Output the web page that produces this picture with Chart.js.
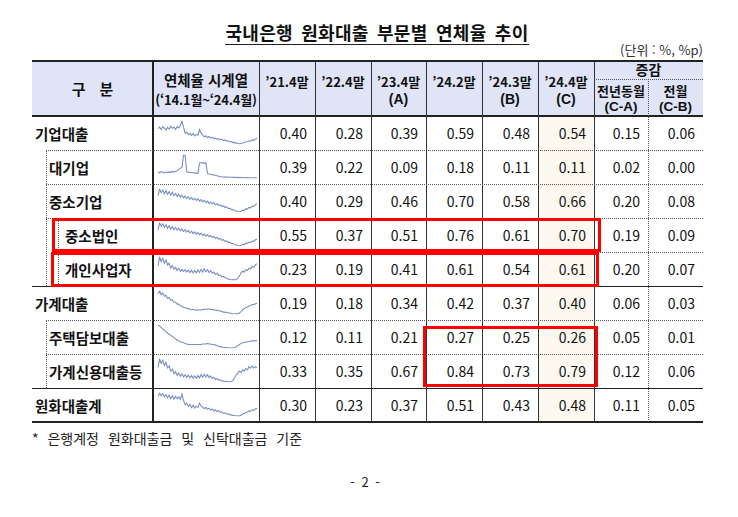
<!DOCTYPE html>
<html lang="ko">
<head>
<meta charset="utf-8">
<script src="https://cdn.jsdelivr.net/npm/chart.js@4.4.1/dist/chart.umd.min.js"></script>
<style>
  html, body { margin: 0; padding: 0; background: #fff; }
  body { font-family: 'Noto Sans CJK KR', 'Noto Sans', sans-serif; color: #111; }
  #page { position: relative; width: 738px; height: 517px; overflow: hidden; background: #fff; }
  .box { position: absolute; box-sizing: border-box; }
  .cell { position: absolute; box-sizing: border-box; display: flex; align-items: center; white-space: nowrap; }
  .hd { font-weight: 700; font-size: 13px; justify-content: center; }
  .lat { font-family: 'Liberation Sans', 'Noto Sans', sans-serif; }
  .num { font-size: 14px; justify-content: flex-end; padding-right: 8px; }
  .lab { font-size: 14.5px; font-weight: 700; }
</style>
</head>
<body>
<div id="page"></div>
<script>
// 표 데이터
const rowNames = ['기업대출', '대기업', '중소기업', '중소법인', '개인사업자', '가계대출', '주택담보대출', '가계신용대출등', '원화대출계'];
const colHeads = [['’21.4말'], ['’22.4말'], ['’23.4말', '(A)'], ['’24.2말'], ['’24.3말', '(B)'], ['’24.4말', '(C)']];
const diffHeads = [['전년동월', '(C-A)'], ['전월', '(C-B)']];

const r21_4 = [0.40, 0.39, 0.40, 0.55, 0.23, 0.19, 0.12, 0.33, 0.30];
const r22_4 = [0.28, 0.22, 0.29, 0.37, 0.19, 0.18, 0.11, 0.35, 0.23];
const r23_4 = [0.39, 0.09, 0.46, 0.51, 0.41, 0.34, 0.21, 0.67, 0.37];
const r24_2 = [0.59, 0.18, 0.70, 0.76, 0.61, 0.42, 0.27, 0.84, 0.51];
const r24_3 = [0.48, 0.11, 0.58, 0.61, 0.54, 0.37, 0.25, 0.73, 0.43];
const r24_4 = [0.54, 0.11, 0.66, 0.70, 0.61, 0.40, 0.26, 0.79, 0.48];
const diffYoY = [0.15, 0.02, 0.20, 0.19, 0.20, 0.06, 0.05, 0.12, 0.11];
const diffMoM = [0.06, 0.00, 0.08, 0.09, 0.07, 0.03, 0.01, 0.06, 0.05];

// 시계열 ('14.1월~'24.4월, 격월 근사)
const months = ['14.1','14.3','14.5','14.7','14.9','14.11','15.1','15.3','15.5','15.7','15.9','15.11',
  '16.1','16.3','16.5','16.7','16.9','16.11','17.1','17.3','17.5','17.7','17.9','17.11',
  '18.1','18.3','18.5','18.7','18.9','18.11','19.1','19.3','19.5','19.7','19.9','19.11',
  '20.1','20.3','20.5','20.7','20.9','20.11','21.1','21.3','21.5','21.7','21.9','21.11',
  '22.1','22.3','22.5','22.7','22.9','22.11','23.1','23.3','23.5','23.7','23.9','23.11',
  '24.1','24.3','24.4'];

const trendCorp = [1.02,1.10,0.98,1.12,1.05,0.96,1.08,1.00,1.14,1.04,1.10,0.98,1.12,1.06,1.18,
  1.40,1.10,0.80,0.84,0.72,0.80,0.68,0.78,0.66,0.74,0.70,0.98,0.80,
  0.70,0.62,0.66,0.58,0.63,0.55,0.60,0.52,0.56,0.49,0.53,0.46,0.50,0.43,0.46,0.40,0.42,0.36,0.38,0.33,0.34,0.30,0.29,0.26,
  0.28,0.31,0.33,0.36,0.38,0.42,0.40,0.46,0.44,0.50,0.54];
const trendLarge = [0.62,0.58,0.66,0.60,0.55,0.62,0.58,0.64,0.60,0.68,0.62,0.70,0.74,
  0.85,0.98,1.00,2.10,2.05,0.65,0.60,0.62,0.56,0.58,0.52,0.55,0.50,
  1.42,1.45,1.40,1.42,1.40,0.50,0.46,0.44,0.40,0.38,0.33,0.30,0.26,0.22,
  0.22,0.20,0.21,0.18,0.19,0.17,0.18,0.16,0.17,0.15,0.16,0.14,0.15,0.13,0.14,0.12,0.14,0.12,0.13,0.11,0.12,0.12,0.11];
const trendSme = [1.05,1.38,1.20,1.32,1.15,1.30,1.12,1.26,1.08,1.22,1.05,
  1.16,1.02,1.12,0.98,1.08,0.95,1.04,0.92,1.00,0.88,0.97,0.85,0.93,0.82,0.90,0.79,0.86,0.75,0.83,0.72,
  0.79,0.68,0.75,0.65,0.71,0.61,0.67,0.57,0.62,0.53,0.57,0.48,0.51,0.43,0.45,0.37,0.38,0.32,0.31,0.28,0.26,
  0.30,0.35,0.33,0.42,0.40,0.48,0.46,0.55,0.52,0.62,0.66];
const trendSmeCorp = [1.20,1.60,1.42,1.55,1.35,1.50,1.30,1.45,1.26,1.40,1.22,
  1.35,1.20,1.31,1.16,1.27,1.12,1.22,1.08,1.18,1.04,1.14,1.00,1.10,0.97,1.06,0.94,1.02,0.90,0.98,0.86,
  0.94,0.82,0.89,0.78,0.84,0.73,0.79,0.68,0.73,0.62,0.66,0.56,0.59,0.50,0.52,0.44,0.44,0.38,0.36,0.33,0.30,
  0.34,0.40,0.37,0.46,0.44,0.52,0.49,0.58,0.56,0.65,0.70];
const trendSoho = [0.55,0.78,0.66,0.75,0.62,0.70,0.58,0.62,
  0.50,0.56,0.47,0.52,0.44,0.49,0.42,0.47,0.41,0.46,0.40,0.45,0.39,0.44,0.38,0.44,0.38,0.45,0.39,0.47,0.40,0.48,0.41,0.46,0.39,0.44,0.37,
  0.40,0.34,0.37,0.31,0.33,0.28,0.29,0.25,0.25,0.22,0.22,0.20,0.21,0.20,0.22,
  0.24,0.30,0.38,0.42,0.40,0.46,0.44,0.50,0.48,0.54,0.52,0.58,0.61];
const trendHouse = [0.60,0.66,0.58,0.62,0.55,0.57,0.50,0.52,0.46,0.47,0.42,0.42,0.38,0.38,0.34,0.34,0.31,0.31,
  0.29,0.28,0.27,0.26,0.27,0.25,0.26,0.25,0.26,0.25,0.27,0.26,0.28,0.27,0.28,0.26,0.27,0.25,0.26,
  0.24,0.25,0.23,0.23,0.21,0.21,0.20,0.19,0.19,0.18,0.17,0.17,0.18,0.17,0.19,
  0.22,0.26,0.28,0.31,0.32,0.34,0.35,0.37,0.37,0.39,0.40];
const trendMortgage = [0.53,0.51,0.49,0.46,0.44,0.41,0.39,0.37,0.35,0.33,0.31,0.29,0.27,0.25,0.24,0.23,0.22,0.21,
  0.20,0.19,0.19,0.19,0.19,0.19,0.19,0.19,0.19,0.19,0.20,0.20,0.20,0.21,0.20,0.20,0.19,0.19,0.18,
  0.17,0.16,0.15,0.15,0.14,0.14,0.14,0.13,0.13,0.13,0.13,0.14,0.15,0.17,0.19,
  0.21,0.22,0.23,0.23,0.24,0.24,0.25,0.25,0.26,0.25,0.26];
const trendCredit = [0.80,1.06,0.92,1.02,0.86,0.95,0.78,0.84,0.68,0.74,0.60,0.66,0.55,0.62,0.52,0.59,0.50,0.57,
  0.49,0.55,0.47,0.54,0.46,0.53,0.46,0.54,0.47,0.57,0.49,0.58,0.50,0.57,0.48,0.53,0.45,0.49,0.42,
  0.45,0.39,0.41,0.37,0.38,0.35,0.36,0.34,0.35,0.35,0.40,0.48,0.56,0.62,0.68,
  0.64,0.72,0.68,0.76,0.72,0.82,0.77,0.84,0.78,0.82,0.79];
const trendTotal = [0.90,1.02,0.92,1.00,0.88,0.96,0.85,0.94,0.82,0.92,0.80,0.90,0.82,0.88,0.80,0.98,0.75,0.60,
  0.66,0.54,0.62,0.50,0.58,0.48,0.55,0.50,0.66,0.56,0.52,0.46,0.51,0.44,0.48,0.41,0.45,0.38,0.42,
  0.36,0.39,0.33,0.35,0.30,0.31,0.27,0.28,0.24,0.24,0.22,0.22,0.20,0.21,0.20,
  0.23,0.27,0.29,0.33,0.34,0.38,0.37,0.42,0.40,0.45,0.48];

const trends = [trendCorp, trendLarge, trendSme, trendSmeCorp, trendSoho, trendHouse, trendMortgage, trendCredit, trendTotal];

// 배치
const page = document.getElementById('page');
const colX = [32, 153, 259, 315, 371, 426, 482, 538, 594, 648, 703];
const headTop = 61, headBot = 116, rowH = 34;
const rowTop = i => headBot + i * rowH;
const indent = [0, 1, 1, 2, 2, 0, 1, 1, 0];
const indentX = [35, 49, 65];
const px = v => v + 'px';

function el(cls, css, html) {
  const d = document.createElement('div');
  d.className = cls;
  Object.assign(d.style, css);
  if (html !== undefined) d.innerHTML = html;
  page.appendChild(d);
  return d;
}
function hline(x1, x2, y, w, style, color) {
  el('box', { left: px(x1), top: px(y), width: px(x2 - x1), height: '0px', borderTop: w + 'px ' + style + ' ' + color });
}
function vline(x, y1, y2, w, style, color) {
  el('box', { left: px(x), top: px(y1), width: '0px', height: px(y2 - y1), borderLeft: w + 'px ' + style + ' ' + color });
}
// 중심 y 기준 한 줄 텍스트
function textAt(cls, x1, x2, cy, h, html, extra) {
  return el(cls, Object.assign({ left: px(x1), top: px(cy - h / 2), width: px(x2 - x1), height: px(h) }, extra || {}), html);
}

// 제목
el('cell', { left: '150px', top: '19px', width: '454px', height: '28px', justifyContent: 'center' },
  '<span style="font-size:18px;font-weight:700;letter-spacing:0.3px;border-bottom:1px solid #222;line-height:21px;padding-bottom:1px;word-spacing:3px">국내은행 원화대출 부문별 연체율 추이</span>');
el('cell', { left: '560px', top: '40px', width: '143px', height: '18px', justifyContent: 'flex-end', fontSize: '13px', color: '#333' }, '(단위 : %, %p)');

// 배경
const tableBot = rowTop(rowNames.length);
el('box', { left: px(colX[0]), top: px(headTop), width: px(colX[10] - colX[0]), height: px(headBot - headTop), background: '#dfe5f6' });
el('box', { left: px(colX[7]), top: px(headBot), width: px(colX[8] - colX[7]), height: px(tableBot - headBot), background: '#fdf9f0' });

// 머리글
textAt('cell hd', colX[0], colX[1], 88, 20, '<span style="letter-spacing:14px;margin-right:-14px">구분</span>', { fontSize: '15px' });
textAt('cell hd', colX[1], colX[2], 79, 20, '연체율 시계열', { fontSize: '14.5px' });
textAt('cell hd', colX[1], colX[2], 99, 18, '(‘14.1월~‘24.4월)', { letterSpacing: '-0.2px' });
colHeads.forEach((h, j) => {
  textAt('cell hd', colX[j + 2], colX[j + 3], 81, 18, h[0]);
  if (h[1]) textAt('cell hd lat', colX[j + 2], colX[j + 3], 99, 16, h[1], { fontSize: '14px' });
});
textAt('cell hd', colX[8], colX[10], 69, 18, '증감', { fontSize: '14px' });
diffHeads.forEach((h, j) => {
  textAt('cell hd', colX[8 + j], colX[9 + j], 90, 17, h[0], { fontSize: '13px' });
  textAt('cell hd lat', colX[8 + j], colX[9 + j], 106, 15, h[1], { fontSize: '13.5px' });
});

// 본문
const valueCols = [r21_4, r22_4, r23_4, r24_2, r24_3, r24_4, diffYoY, diffMoM];
rowNames.forEach((name, i) => {
  const t = rowTop(i);
  el('cell lab', { left: px(indentX[indent[i]]), top: px(t), height: px(rowH) }, name);
  valueCols.forEach((arr, j) => {
    el('cell num', { left: px(colX[j + 2]), top: px(t), width: px(colX[j + 3] - colX[j + 2]), height: px(rowH) }, arr[i].toFixed(2));
  });
});

// 선
const dark = '#222', dot = '#555';
hline(colX[0], colX[10], headTop - 1, 2, 'solid', dark);
hline(colX[0], colX[10], headBot - 1, 2, 'solid', dark);
hline(colX[0], colX[10], tableBot - 1, 2, 'solid', dark);
hline(colX[8], colX[10], 79, 1, 'dotted', dot);
vline(colX[1] - 1, headTop, tableBot, 2, 'solid', dark);
for (let j = 2; j <= 8; j++) vline(colX[j], headTop, tableBot, 1, 'solid', '#333');
vline(colX[9], 79, tableBot, 1, 'dotted', dot);
hline(colX[0], colX[10], rowTop(5), 1, 'solid', dark);
hline(colX[0], colX[10], rowTop(8), 1, 'solid', dark);
[1, 2, 6, 7].forEach(i => hline(46, colX[10], rowTop(i), 1, 'dotted', dot));
hline(58, colX[10], rowTop(4), 1, 'dotted', dot);
hline(46, colX[10], rowTop(3), 1, 'dotted', dot);
vline(46, rowTop(1), rowTop(5), 1, 'dotted', dot);
vline(46, rowTop(6), rowTop(8), 1, 'dotted', dot);
vline(58, rowTop(3), rowTop(5), 1, 'dotted', dot);

// 스파크라인
trends.forEach((series, i) => {
  const c = document.createElement('canvas');
  c.width = 101; c.height = 25;
  Object.assign(c.style, { position: 'absolute', left: '157px', top: px(rowTop(i) + 4), width: '101px', height: '25px' });
  page.appendChild(c);
  new Chart(c, {
    type: 'line',
    data: { labels: months, datasets: [{ data: series, borderColor: '#7b8ec4', borderWidth: 1.1, pointRadius: 0, tension: 0, fill: false }] },
    options: {
      responsive: false,
      animation: false,
      events: [],
      layout: { padding: 1 },
      plugins: { legend: { display: false }, tooltip: { enabled: false } },
      scales: {
        x: { display: false },
        y: { display: false, bounds: 'data', grace: 0 }
      }
    }
  });
});

// 강조 박스
function redBox(x1, y1, x2, y2) {
  el('box', { left: px(x1), top: px(y1), width: px(x2 - x1), height: px(y2 - y1), border: '3px solid #ff0000' });
}
redBox(52, 218, 601, 252);
redBox(51, 252, 599, 287);
redBox(423, 326, 598, 387);

// 각주
el('cell', { left: '32px', top: '428px', height: '20px', fontSize: '14px', wordSpacing: '5px', color: '#222' }, '* 은행계정 원화대출금 및 신탁대출금 기준');
el('cell', { left: '330px', top: '471px', width: '70px', height: '20px', justifyContent: 'center', fontSize: '13px', wordSpacing: '3px', color: '#222' }, '- 2 -');
</script>
</body>
</html>
